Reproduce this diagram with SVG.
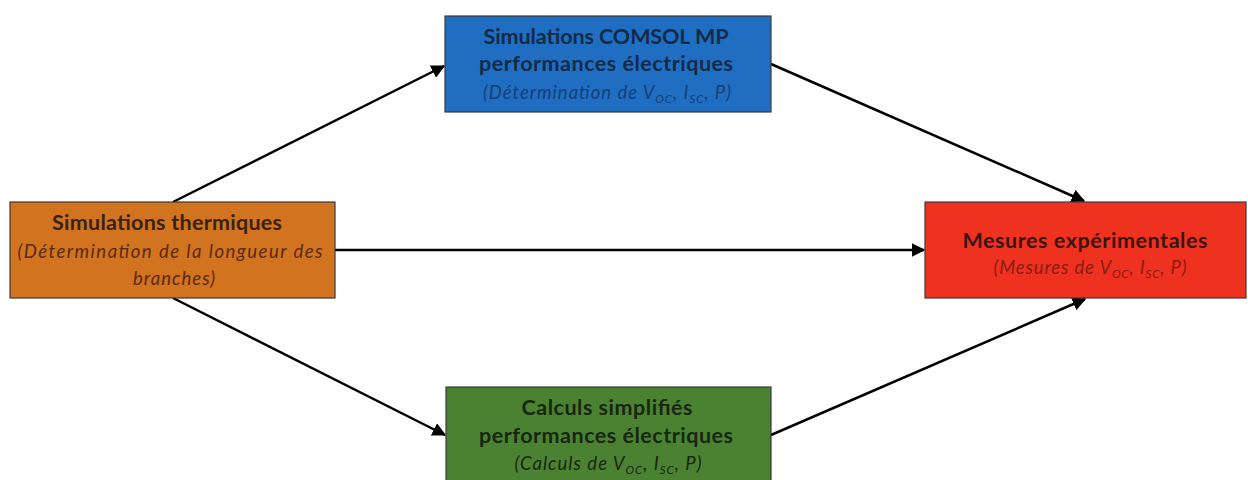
<svg xmlns="http://www.w3.org/2000/svg" width="1248" height="480" viewBox="0 0 1248 480">
<style>
.box{stroke:#3a3a3a;stroke-width:1.2}
.t{font-family:Lato,"Liberation Sans",sans-serif;font-weight:bold;font-size:21.5px;text-anchor:middle}
.s{font-family:Lato,"Liberation Sans",sans-serif;font-style:italic;font-size:18.5px;text-anchor:middle}
.sub{font-size:11.5px}
.conn{stroke:#000;stroke-width:2.5;fill:none;marker-end:url(#ah)}
</style>
<defs>
<marker id="ah" viewBox="0 0 10 10" refX="9" refY="5" markerWidth="5.5" markerHeight="5.5" orient="auto" markerUnits="strokeWidth">
<path d="M0,0 L10,5 L0,10 Z" fill="#000"/>
</marker>
</defs>
<rect width="1248" height="480" fill="#fff"/>
<g id="connectors">
<line class="conn" x1="173" y1="202" x2="444" y2="66"/>
<line class="conn" x1="771" y1="64" x2="1084" y2="201"/>
<line class="conn" x1="335" y1="250" x2="924" y2="250"/>
<line class="conn" x1="173" y1="298" x2="445" y2="435"/>
<line class="conn" x1="771" y1="435" x2="1085" y2="299"/>
</g>
<g id="blue">
<rect class="box" x="445" y="16" width="326" height="96" fill="#1f6ec1"/>
<text class="t" x="606" y="44" fill="#132a48" textLength="245" lengthAdjust="spacing">Simulations COMSOL MP</text>
<text class="t" x="606" y="71" fill="#132a48" textLength="254" lengthAdjust="spacing">performances électriques</text>
<text class="s" x="607" y="99" fill="#173f75" textLength="248" lengthAdjust="spacing">(Détermination de V<tspan class="sub" dy="4">OC</tspan><tspan dy="-4">, I</tspan><tspan class="sub" dy="4">SC</tspan><tspan dy="-4">, P)</tspan></text>
</g>
<g id="orange">
<rect class="box" x="10" y="202" width="325" height="96" fill="#d1731f"/>
<text class="t" x="167" y="230" fill="#3a2212" textLength="230" lengthAdjust="spacing">Simulations thermiques</text>
<text class="s" x="170" y="258" fill="#5a2a10" textLength="305" lengthAdjust="spacing">(Détermination de la longueur des</text>
<text class="s" x="174" y="285" fill="#5a2a10" textLength="82" lengthAdjust="spacing">branches)</text>
</g>
<g id="red">
<rect class="box" x="925" y="202" width="321" height="96" fill="#ef321f"/>
<text class="t" x="1085" y="248" fill="#3a1410" textLength="245" lengthAdjust="spacing">Mesures expérimentales</text>
<text class="s" x="1090" y="274" fill="#8c1a12" textLength="193" lengthAdjust="spacing">(Mesures de V<tspan class="sub" dy="4">OC</tspan><tspan dy="-4">, I</tspan><tspan class="sub" dy="4">SC</tspan><tspan dy="-4">, P)</tspan></text>
</g>
<g id="green">
<rect class="box" x="446" y="387" width="325" height="100" fill="#4a8232"/>
<text class="t" x="607" y="415" fill="#17260f" textLength="171" lengthAdjust="spacing">Calculs simplifiés</text>
<text class="t" x="606" y="443" fill="#17260f" textLength="254" lengthAdjust="spacing">performances électriques</text>
<text class="s" x="608" y="470" fill="#17260f" textLength="187" lengthAdjust="spacing">(Calculs de V<tspan class="sub" dy="4">OC</tspan><tspan dy="-4">, I</tspan><tspan class="sub" dy="4">SC</tspan><tspan dy="-4">, P)</tspan></text>
</g>
</svg>
